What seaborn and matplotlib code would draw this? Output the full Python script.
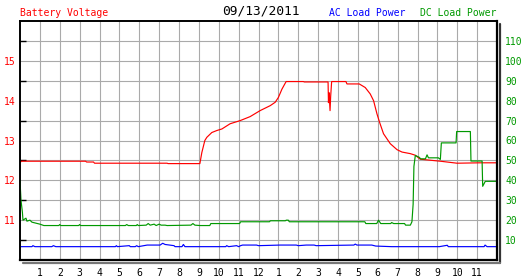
import numpy as np
import pandas as pd
import matplotlib
matplotlib.use("Agg")
import matplotlib.pyplot as plt
from matplotlib.lines import Line2D
import seaborn as sns

# ---------------- data ----------------
title = "09/13/2011"
hour_labels = ["1", "2", "3", "4", "5", "6", "7", "8", "9", "10", "11", "12",
               "1", "2", "3", "4", "5", "6", "7", "8", "9", "10", "11"]

volt_hours = [0.0, 0.08, 3.3, 3.35, 3.7, 3.75, 7.4, 7.45, 9.05, 9.15, 9.3, 9.4, 9.65,
              9.9, 10.16, 10.57, 11.08, 11.58, 12.08, 12.59, 12.84, 13.0, 13.18,
              13.39, 14.26, 14.3, 15.5, 15.52, 15.55, 15.6, 15.63, 15.68, 16.4,
              16.45, 17.07, 17.37, 17.62, 17.79, 17.96, 18.09, 18.29, 18.63, 18.97,
              19.22, 19.64, 19.89, 20.14, 21.15, 21.99, 23.16, 24.0]
volt_values = [12.45, 12.48, 12.48, 12.46, 12.46, 12.43, 12.43, 12.42, 12.42, 12.7,
               13.0, 13.08, 13.2, 13.25, 13.29, 13.42, 13.5, 13.6, 13.75, 13.875,
               13.96, 14.08, 14.29, 14.48, 14.48, 14.47, 14.47, 13.95, 14.2, 13.75,
               14.1, 14.48, 14.48, 14.42, 14.42, 14.33, 14.17, 14.0, 13.67, 13.46,
               13.17, 12.92, 12.77, 12.71, 12.67, 12.63, 12.53, 12.48, 12.43, 12.44,
               12.44]

dc_hours = [0.0, 0.05, 0.12, 0.15, 0.3, 0.35, 0.5, 0.6, 0.8, 1.0, 1.2, 1.95, 2.0,
            2.05, 2.95, 3.0, 3.05, 5.3, 5.37, 5.45, 5.85, 5.9, 5.95, 6.35, 6.45,
            6.55, 6.75, 6.85, 7.0, 7.1, 7.3, 7.4, 8.6, 8.7, 8.8, 9.06, 9.55, 9.6,
            11.05, 11.1, 12.55, 12.6, 13.35, 13.4, 13.5, 13.55, 17.35, 17.4, 17.95,
            18.04, 18.15, 18.65, 18.7, 18.8, 19.35, 19.4, 19.64, 19.72, 19.78, 19.82,
            19.89, 20.1, 20.15, 20.4, 20.48, 20.55, 21.05, 21.15, 21.2, 21.94, 21.97,
            22.66, 22.69, 23.25, 23.28, 23.41, 24.0]
dc_values = [40, 30, 24, 20, 21, 19.5, 20, 19, 18.5, 18, 17.3, 17.3, 17.8, 17.3, 17.3,
             17.8, 17.3, 17.3, 17.8, 17.3, 17.3, 17.8, 17.3, 17.5, 18.3, 17.5, 18.0,
             17.3, 18.0, 17.5, 17.5, 17.3, 17.5, 18.3, 17.5, 17.3, 17.3, 18.3, 18.3,
             19.2, 19.2, 19.7, 19.7, 20.0, 20.0, 19.2, 19.2, 18.3, 18.3, 20.0, 18.3,
             18.3, 18.8, 18.3, 18.3, 17.5, 17.5, 19.2, 28, 47, 52.5, 51.5, 50.8, 50.8,
             52.8, 51.3, 51.3, 50.5, 58.8, 58.8, 64.5, 64.5, 49.7, 49.7, 37, 39.5,
             39.5]

ac_hours = [0.0, 0.6, 0.65, 0.75, 1.6, 1.68, 1.8, 4.8, 4.85, 4.9, 5.5, 5.55, 5.8,
            5.87, 5.95, 6.4, 7.05, 7.18, 7.3, 7.75, 7.8, 8.15, 8.22, 8.3, 10.35, 10.4,
            10.5, 10.9, 11.0, 11.1, 11.2, 11.9, 12.0, 13.1, 13.9, 14.0, 14.4, 14.8,
            14.9, 16.8, 16.87, 16.95, 17.1, 17.7, 17.9, 18.7, 21.1, 21.5, 21.55, 23.35,
            23.4, 23.5, 24.0]
ac_values = [6.7, 6.7, 7.2, 6.7, 6.7, 7.2, 6.7, 6.7, 7.2, 6.7, 7.2, 6.7, 6.7, 7.2, 6.7,
             7.5, 7.5, 8.4, 7.8, 7.2, 6.7, 6.7, 7.8, 6.7, 6.7, 7.2, 6.7, 7.2, 6.7, 7.2,
             7.5, 7.5, 7.2, 7.5, 7.5, 7.2, 7.5, 7.5, 7.2, 7.5, 8.0, 7.5, 7.5, 7.5, 7.0,
             6.7, 6.7, 7.4, 6.7, 6.7, 7.5, 6.7, 6.7]

volt_df = pd.DataFrame({"hour": volt_hours, "volts": volt_values})
dc_df = pd.DataFrame({"hour": dc_hours, "watts": dc_values})
ac_df = pd.DataFrame({"hour": ac_hours, "watts": ac_values})

# ---------------- style ----------------
sns.set_style("white")
plt.rcParams["font.family"] = ["DejaVu Sans Mono", "DejaVu Sans"]
plt.rcParams["font.size"] = 7

RED = "#ff0000"
BLUE = "#0000ff"
GREEN = "#009900"
GRID = "#aaaaaa"

W, H = 527, 280
fig = plt.figure(figsize=(W / 100, H / 100), dpi=100)
fig.patch.set_facecolor("white")
L, R, T, B = 20, 497, 21, 260
ax = fig.add_axes([L / W, 1 - B / H, (R - L) / W, (B - T) / H])
ax2 = ax.twinx()

sns.lineplot(data=volt_df, x="hour", y="volts", ax=ax, color=RED, lw=0.85,
             estimator=None, sort=False)
sns.lineplot(data=ac_df, x="hour", y="watts", ax=ax2, color=BLUE, lw=0.85,
             estimator=None, sort=False)
sns.lineplot(data=dc_df, x="hour", y="watts", ax=ax2, color=GREEN, lw=0.85,
             estimator=None, sort=False)

ax.set_xlim(0, 24)
ax.set_ylim(10, 16)
ax2.set_ylim(0, 120)

ax.set_xticks(range(1, 24))
ax.set_xticklabels(hour_labels)
ax.set_yticks([11, 12, 13, 14, 15])
ax.set_yticks(np.arange(10.5, 16, 1.0), minor=True)
ax2.set_yticks(range(10, 120, 10))

ax.grid(True, which="major", axis="x", color=GRID, lw=0.8)
ax.grid(True, which="both", axis="y", color=GRID, lw=0.8)
ax2.grid(False)
ax.set_axisbelow(True)

ax.tick_params(axis="x", which="major", direction="in", length=3.5, width=1,
               color="black", pad=5.5, labelsize=7, labelcolor="black")
ax.tick_params(axis="y", which="major", length=0, pad=3.5, labelsize=7,
               labelcolor=RED)
ax.tick_params(axis="y", which="minor", direction="in", length=4, width=1,
               color="black")
ax2.tick_params(axis="y", length=0, pad=6, labelsize=7, labelcolor=GREEN)

for a in (ax, ax2):
    a.set_xlabel("")
    a.set_ylabel("")
    for s in a.spines.values():
        s.set_color("black")
        s.set_linewidth(1.2)
ax2.spines["right"].set_linewidth(1.6)
ax2.spines["bottom"].set_linewidth(1.6)

# drop shadow of the frame
fig.add_artist(Line2D([(R + 2.5) / W, (R + 2.5) / W], [1 - (T + 3) / H, 1 - (B + 2.5) / H],
                      transform=fig.transFigure, color="#333333", lw=1.6))
fig.add_artist(Line2D([(L + 3) / W, (R + 3.3) / W], [1 - (B + 2.5) / H, 1 - (B + 2.5) / H],
                      transform=fig.transFigure, color="#777777", lw=1.6))

# header texts
fig.text(L / W, 1 - 13 / H, "Battery Voltage", color=RED, fontsize=7,
         ha="left", va="center")
fig.text(261 / W, 1 - 10.5 / H, title, color="black", fontsize=9.3,
         ha="center", va="center")
fig.text(405 / W, 1 - 13 / H, "AC Load Power", color=BLUE, fontsize=7,
         ha="right", va="center")
fig.text(496 / W, 1 - 13 / H, "DC Load Power", color=GREEN, fontsize=7,
         ha="right", va="center")

fig.savefig("out.png", dpi=100, facecolor="white")
